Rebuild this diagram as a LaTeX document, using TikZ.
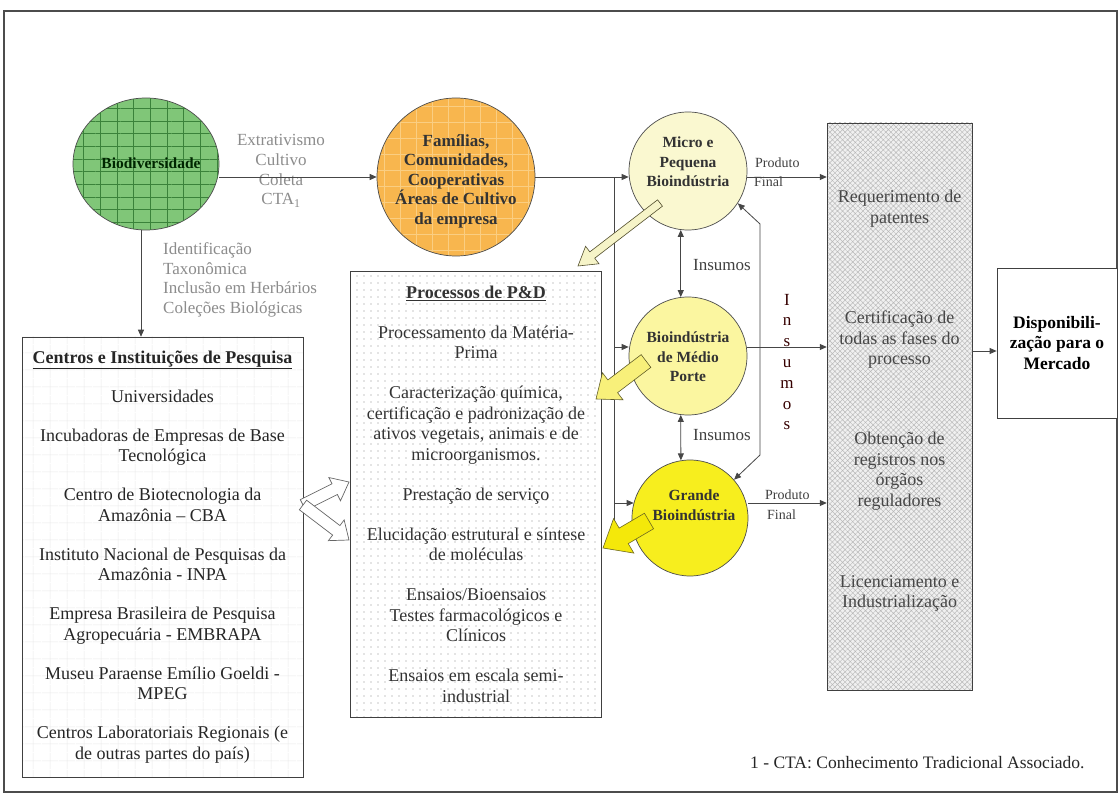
\documentclass[tikz,border=0pt]{standalone}
\usepackage{fontspec}
\setmainfont{Liberation Serif}
\usetikzlibrary{calc,arrows.meta,patterns.meta,shapes.geometric}

\definecolor{biofill}{RGB}{128,198,120}
\definecolor{biogrid}{RGB}{58,130,58}
\definecolor{famfill}{RGB}{248,182,78}
\definecolor{famgrid}{RGB}{250,206,130}
\definecolor{microfill}{RGB}{250,248,208}
\definecolor{mediofill}{RGB}{251,246,160}
\definecolor{grandefill}{RGB}{247,238,30}
\definecolor{palearrow}{RGB}{246,244,200}
\definecolor{midarrow}{RGB}{248,240,122}
\definecolor{strongarrow}{RGB}{244,232,10}
\definecolor{labelgray}{RGB}{140,140,140}
\definecolor{linegray}{RGB}{70,70,70}

% block arrow: tail, tip, shaft half width, head half width, head length, style
\newcommand{\blockarr}[6]{%
  \coordinate (ba-h) at ($(#2)!#5!(#1)$);
  \path[#6] ($(#1)!#3!90:(#2)$) -- ($(ba-h)!#3!90:(#2)$) -- ($(ba-h)!#4!90:(#2)$)
    -- (#2) -- ($(ba-h)!#4!-90:(#2)$) -- ($(ba-h)!#3!-90:(#2)$)
    -- ($(#1)!#3!-90:(#2)$) -- cycle;
}

\tikzset{
  conn/.style={draw=linegray, line width=0.8pt},
  arr/.style={conn, -{Triangle[length=7pt,width=6pt]}},
  arrboth/.style={conn, {Triangle[length=7pt,width=6pt]}-{Triangle[length=7pt,width=6pt]}},
  body/.style={font=\fontsize{18}{20.5}\selectfont, align=center, inner sep=0pt},
  circ/.style={draw=black!70, line width=0.7pt, inner sep=0pt},
  circtext/.style={font=\fontsize{15.5}{19.5}\selectfont\bfseries, align=center, inner sep=0pt, text=black!80},
  graylabel/.style={font=\fontsize{17}{19.7}\selectfont, text=labelgray, inner sep=0pt},
  small/.style={font=\fontsize{14}{16}\selectfont, text=black!75, inner sep=0pt, anchor=west},
  boxframe/.style={draw=black!75, line width=0.8pt, inner sep=0pt},
}

\begin{document}
\begin{tikzpicture}[x=1pt,y=-1pt]
\useasboundingbox (0,0) rectangle (1120,794);
\fill[white] (0,0) rectangle (1120,794);
\draw[black!70, line width=1.2pt] (4,11) rectangle (1117,792);

% ---- circles ----
\node[circ, ellipse, minimum width=146pt, minimum height=132pt,
      preaction={fill=biofill},
      pattern={Lines[angle=0,distance=12.7pt,line width=0.6pt]}, pattern color=biogrid,
      postaction={pattern={Lines[angle=90,distance=16.7pt,line width=0.6pt]}, pattern color=biogrid}]
      (bio) at (146,164) {};
\node[circtext, text=black!85!green] (biotext) at (151,163) {Biodiversidade};
\node[circ, circle, minimum size=158pt,
      preaction={fill=famfill},
      pattern={Hatch[distance=16pt,line width=0.6pt]}, pattern color=famgrid]
      (fam) at (456,177) {};
\node[circtext, font=\fontsize{17}{19.5}\selectfont\bfseries] (famtext) at (456,181)
      {Famílias,\\Comunidades,\\Cooperativas\\Áreas de Cultivo\\da empresa};
\node[circ, circle, minimum size=118pt, fill=microfill] (micro) at (688,171) {};
\node[circtext] (microtext) at (688,162) {Micro e\\Pequena\\Bioindústria};
\node[circ, circle, minimum size=118pt, fill=mediofill] (medio) at (688,356) {};
\node[circtext] (mediotext) at (688,357) {Bioindústria\\de Médio\\Porte};
\node[circ, circle, minimum size=116pt, fill=grandefill] (grande) at (690,518) {};
\node[circtext] (grandetext) at (694,505) {Grande\\Bioindústria};

% ---- boxes ----
\node[boxframe, body, minimum width=281pt, minimum height=440pt, text=black!85,
      preaction={fill=white},
      pattern={Hatch[distance=17pt,line width=0.5pt]}, pattern color=black!8]
      (centros) at (162.5,557)
      {\textbf{\underline{Centros e Instituições de Pesquisa}}\\[18.5pt]
       Universidades\\[18.5pt]
       Incubadoras de Empresas de Base\\Tecnológica\\[18.5pt]
       Centro de Biotecnologia da\\Amazônia – CBA\\[18.5pt]
       Instituto Nacional de Pesquisas da\\Amazônia - INPA\\[18.5pt]
       Empresa Brasileira de Pesquisa\\Agropecuária - EMBRAPA\\[18.5pt]
       Museu Paraense Emílio Goeldi -\\MPEG\\[18.5pt]
       Centros Laboratoriais Regionais (e\\de outras partes do país)};

\node[boxframe, body, minimum width=251pt, minimum height=446pt, text=black!80,
      preaction={fill=white},
      pattern={Dots[distance=7pt,radius=0.55pt]}, pattern color=black!45]
      (pd) at (476,494)
      {\textbf{\underline{Processos de P\&D}}\\[19.5pt]
       Processamento da Matéria-\\Prima\\[19.5pt]
       Caracterização química,\\certificação e padronização de\\ativos vegetais, animais e de\\microorganismos.\\[19.5pt]
       Prestação de serviço\\[19.5pt]
       Elucidação estrutural e síntese\\de moléculas\\[19.5pt]
       Ensaios/Bioensaios\\Testes farmacológicos e\\Clínicos\\[19.5pt]
       Ensaios em escala semi-\\industrial};

\node[boxframe, minimum width=145pt, minimum height=567pt,
      preaction={fill=black!6},
      pattern={Hatch[angle=45,distance=3.6pt,line width=0.45pt]}, pattern color=black!28]
      (reg) at (899.5,406.5) {};
\node[body, text=black!72] (regtext) at (899.5,401)
      {Requerimento de\\patentes\\[80pt]
       Certificação de\\todas as fases do\\processo\\[59.5pt]
       Obtenção de\\registros nos\\órgãos\\reguladores\\[60.5pt]
       Licenciamento e\\Industrialização};

\node[boxframe, body, font=\fontsize{17.5}{20.5}\selectfont\bfseries, minimum width=120pt, minimum height=150pt, fill=white]
      (disp) at (1057,343) {Disponibili-\\zação para o\\Mercado};

% ---- labels ----
\node[graylabel, align=center] (lab1) at (281,171)
      {Extrativismo\\Cultivo\\Coleta\\CTA\textsubscript{1}};
\node[graylabel, align=left, anchor=west] (lab2) at (163,280)
      {Identificação\\Taxonômica\\Inclusão em Herbários\\Coleções Biológicas};
\node[small] (pf1) at (755,163) {Produto};
\node[small] (ff1) at (754,182) {Final};
\node[small] (pf2) at (765,495) {Produto};
\node[small] (ff2) at (767,515) {Final};
\node[body, font=\fontsize{17}{20}\selectfont, text=black!75] (ins1) at (722,265) {Insumos};
\node[body, font=\fontsize{17}{20}\selectfont, text=black!75] (ins2) at (722,435) {Insumos};
\node[body, font=\fontsize{17}{20.8}\selectfont, text=black!65!red!60!black] (ins3) at (787,362)
      {I\\n\\s\\u\\m\\o\\s};
\node[body, anchor=west, font=\fontsize{17.5}{20}\selectfont, text=black!85] (note) at (750,763)
      {1 - CTA: Conhecimento Tradicional Associado.};

% ---- connectors ----
\coordinate (bt) at (614,177);
\coordinate (bb) at (614,530);
\coordinate (j2) at (614,347);
\coordinate (j3) at (614,503);
\coordinate (j4) at (972,351);
\coordinate (l1) at (760,224);
\coordinate (l2) at (760,455);

\draw[arr] (bio.east |- fam.west) -- (fam.west);
\draw[arr] (bio.south -| 141,0) -- (centros.north -| 141,0);
\draw[conn] (fam.east) -- (bt) -- (bb);
\draw[arr] (bt) -- (bt -| micro.west);
\draw[arr] (j2) -- (j2 -| medio.west);
\draw[arr] (j3) -- ($(j3 -| grande.west)+(2,0)$);
\draw[arrboth] (micro.263) -- (medio.97);
\draw[arrboth] (medio.263) -- (grande.99);
\draw[arrboth] (micro.-33) -- (l1) -- (l2) -- (grande.41);
\draw[arr] (bt -| micro.east) -- (bt -| reg.west);
\draw[arr] (j2 -| medio.east) -- (j2 -| reg.west);
\draw[arr] (j3 -| grande.east) -- (j3 -| reg.west);
\draw[arr] (j4) -- (j4 -| disp.west);

% ---- block arrows ----
\coordinate (t1) at (660,203);  \coordinate (h1) at (578,266);
\coordinate (t2) at (646,361);  \coordinate (h2) at (596,399);
\coordinate (t3) at (649,521);  \coordinate (h3) at (603,548);
\coordinate (t4) at (303,505);  \coordinate (h4a) at (349,482);  \coordinate (h4b) at (349,540);
\blockarr{t1}{h1}{4pt}{11pt}{18pt}{fill=palearrow, draw=black!55!olive, line width=0.6pt}
\blockarr{t2}{h2}{8pt}{17pt}{21pt}{fill=midarrow, draw=black!40!olive, line width=0.6pt}
\blockarr{t3}{h3}{9pt}{20pt}{24pt}{fill=strongarrow, draw=black!30!olive, line width=0.6pt}
\blockarr{t4}{h4a}{6pt}{13pt}{16pt}{fill=white, draw=black!60, line width=0.7pt}
\blockarr{t4}{h4b}{6pt}{13pt}{16pt}{fill=white, draw=black!60, line width=0.7pt}
\end{tikzpicture}
\end{document}
